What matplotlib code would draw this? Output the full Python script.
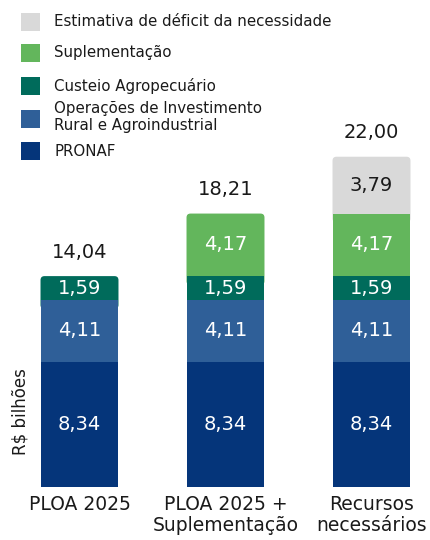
import matplotlib
matplotlib.use("Agg")
import matplotlib.pyplot as plt
from matplotlib.patches import FancyBboxPatch, Rectangle

categorias = ["PLOA 2025", "PLOA 2025 +\nSuplementação", "Recursos\nnecessários"]
pronaf = [8.34, 8.34, 8.34]
investimento = [4.11, 4.11, 4.11]
custeio = [1.59, 1.59, 1.59]
suplementacao = [0, 4.17, 4.17]
deficit = [0, 0, 3.79]
totais = [14.04, 18.21, 22.00]

series = [pronaf, investimento, custeio, suplementacao, deficit]
nomes = ["PRONAF", "Operações de Investimento\nRural e Agroindustrial",
         "Custeio Agropecuário", "Suplementação", "Estimativa de déficit da necessidade"]
cores = ["#05357a", "#2f5f98", "#006b5b", "#63b65c", "#d9d9d9"]
cor_texto = ["white", "white", "white", "white", "#1a1a1a"]

plt.rcParams["font.family"] = ["DejaVu Sans"]

fig = plt.figure(figsize=(4.3, 5.4), dpi=100)
ax = fig.add_axes([0, 0.0987, 1, 0.8333])
ax.set_xlim(-0.5445, 2.4007)
ax.set_ylim(0, 30)

x = list(range(len(categorias)))
largura = 0.534
px_x, px_y = 146, 15          # pixels per data unit
raio = 4 / px_x

fmt = lambda v: f"{v:.2f}".replace(".", ",")

base = [0.0] * len(x)
for serie, cor, ct in zip(series, cores, cor_texto):
    for i, v in enumerate(serie):
        if v <= 0:
            continue
        topo = abs(base[i] + v - totais[i]) < 1e-6
        if topo:
            # top segment with rounded corners, extended down under the segment below
            ext = 0.6 if base[i] > 0 else 0
            p = FancyBboxPatch((i - largura / 2, base[i] - ext), largura, v + ext,
                               boxstyle=f"round,pad=0,rounding_size={raio}",
                               mutation_aspect=px_x / px_y,
                               fc=cor, ec="none", zorder=1)
            ax.add_patch(p)
        else:
            ax.bar(i, v, width=largura, bottom=base[i], color=cor, zorder=2)
        ax.text(i, base[i] + v / 2, fmt(v), ha="center", va="center",
                color=ct, fontsize=14, zorder=3)
        base[i] += v

for i, t in enumerate(totais):
    ax.annotate(fmt(t), (i, t), xytext=(0, 17.3), textcoords="offset points",
                ha="center", va="center", fontsize=14, color="#1a1a1a")

ax.set_xticks(x)
ax.set_xticklabels(categorias, fontsize=13.5, color="#1a1a1a", linespacing=1.15)
ax.tick_params(axis="x", length=0, pad=6)
ax.set_yticks([])
for s in ax.spines.values():
    s.set_visible(False)

fig.text(20 / 430, 1 - 412 / 540, "R$ bilhões", rotation=90, ha="center",
         va="center", fontsize=12, color="#1a1a1a")

# legend, top to bottom
leg_y = [22, 53, 86, 119, 151]
for yy, nome, cor in zip(leg_y, nomes[::-1], cores[::-1]):
    fig.patches.append(Rectangle((21 / 430, 1 - (yy + 9) / 540), 19 / 430, 18 / 540,
                                 fc=cor, ec="none", transform=fig.transFigure))
    ty = yy - 2 if "\n" in nome else yy
    fig.text(54 / 430, 1 - ty / 540, nome, ha="left", va="center",
             fontsize=10.8, color="#1a1a1a", linespacing=1.15)

fig.savefig("out.png", dpi=100)
